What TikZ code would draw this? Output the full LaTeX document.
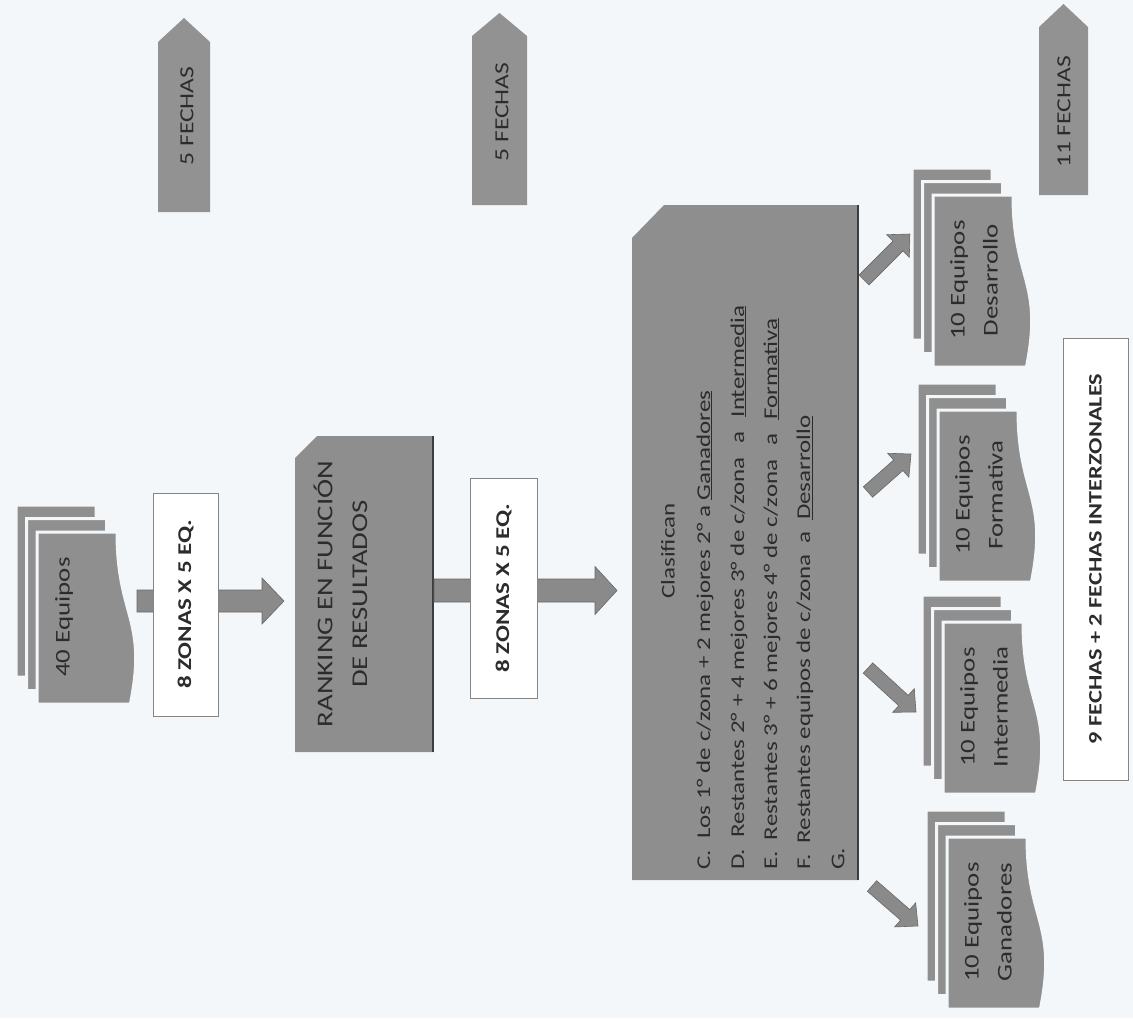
\documentclass[tikz,border=0pt]{standalone}
\usepackage{fontspec}
\setmainfont{Carlito}[FakeStretch=1.28]
\usetikzlibrary{calc}
\definecolor{bgc}{HTML}{F4F7FA}
\definecolor{boxg}{HTML}{8E8E8E}
\definecolor{docg}{HTML}{8F8F8F}
\definecolor{arrg}{HTML}{8A8A8A}
\definecolor{pentg}{HTML}{929292}
\definecolor{edgeg}{HTML}{3C3C3C}
\definecolor{txtc}{HTML}{2C2C2C}
\definecolor{lineg}{HTML}{858585}

\newcommand\blkarrow[5]{%
  \coordinate (hbtmp) at ($(#2)!#5!(#1)$);
  \filldraw[arrowsty] ($(#1)!#3!90:(#2)$) -- ($(hbtmp)!#3!-90:(#1)$) -- ($(hbtmp)!#4!-90:(#1)$) -- (#2)
     -- ($(hbtmp)!#4!90:(#1)$) -- ($(hbtmp)!#3!90:(#1)$) -- ($(#1)!#3!-90:(#2)$) -- cycle;
}
\newcommand\mdoc[5]{%
  \foreach \k in {2,1,0}{%
    \begin{scope}[shift={(#2-10.5*\k,#3-13.5*\k)}]
      \filldraw[docsty] (0,0) -- (80,0) .. controls (80,86) and (110.7,86) .. (93.4,172) -- (0,172) -- cycle;
    \end{scope}}
  \node[doctext] (#1) at (#2+#5,#3+85) {#4};
}
\newcommand\ga{\hspace{14pt}a\hspace{14pt}}

\begin{document}
\begin{tikzpicture}[x=1pt,y=-1pt,
  docsty/.style={fill=docg, draw=bgc, line width=3pt},
  arrowsty/.style={fill=arrg, draw=arrg!75!black, line width=0.6pt},
  boxsty/.style={fill=boxg},
  edgesty/.style={draw=edgeg, line width=2.5pt},
  pentsty/.style={fill=pentg},
  doctext/.style={rotate=90, align=center, text=txtc, inner sep=0pt, font=\fontsize{21}{33}\selectfont},
  pentext/.style={rotate=90, text=txtc, inner sep=0pt, font=\fontsize{20}{24}\selectfont},
  ranktext/.style={rotate=90, text=txtc, inner sep=0pt, font=\fontsize{22.5}{26}\selectfont},
  bigtext/.style={rotate=90, text=txtc, inner sep=0pt, font=\fontsize{19.5}{23}\selectfont},
  lbl/.style={rotate=90, draw=lineg, fill=white, line width=0.9pt, text=txtc, inner sep=0pt,
              font=\bfseries\fontsize{19.5}{23}\selectfont}]
\fill[bgc] (0,0) rectangle (1133,1018);
\useasboundingbox (0,0) rectangle (1133,1018);

% FECHAS pentagons
\fill[pentsty] (158,42) -- (184,18) -- (210,42) -- (210,212) -- (158,212) -- cycle;
\node[pentext] (f1) at (187,116) {5 FECHAS};
\fill[pentsty] (472,36) -- (499.5,13) -- (527,36) -- (527,205) -- (472,205) -- cycle;
\node[pentext] (f2) at (502,112) {5 FECHAS};
\fill[pentsty] (1039,27) -- (1063.5,4) -- (1088,27) -- (1088,195) -- (1039,195) -- cycle;
\node[pentext] (f3) at (1064,112) {11 FECHAS};

% 40 equipos
\mdoc{d40}{37}{532}{40 Equipos}{27}

% arrow 1 and label
\coordinate (a1s) at (137,601);
\coordinate (a1e) at (284,601);
\blkarrow{a1s}{a1e}{11pt}{23pt}{22pt}
\node[lbl, minimum width=223pt, minimum height=65pt] (z1) at (185.5,604.5) {8 ZONAS X 5 EQ.};

% ranking box
\fill[boxsty] (317,436) -- (433,436) -- (433,752) -- (295,752) -- (295,458) -- cycle;
\draw[edgesty] (433,436) -- (433,752);
\node[ranktext] (rank) at (323,594) {RANKING EN FUNCIÓN};
\node[ranktext] (rank2) at (360,594) {DE RESULTADOS};

% arrow 2 and label
\coordinate (a2s) at (434,590.5);
\coordinate (a2e) at (617,590.5);
\blkarrow{a2s}{a2e}{11.5pt}{24pt}{22pt}
\node[lbl, minimum width=220pt, minimum height=67pt] (z2) at (503.5,588) {8 ZONAS X 5 EQ.};

% big box
\fill[boxsty] (664,205) -- (858,205) -- (858,880) -- (632,880) -- (632,238) -- cycle;
\draw[edgesty] (858,205) -- (858,880);
\node[bigtext] (cl) at (668,551) {Clasifican};
\node[bigtext, anchor=west] (lc) at (705,870) {C.\ \ Los 1° de c/zona + 2 mejores 2° a \underline{Ganadores}};
\node[bigtext, anchor=west] (ld) at (739,870) {D.\ \ Restantes 2° + 4 mejores 3° de c/zona\ga\underline{Intermedia}};
\node[bigtext, anchor=west] (le) at (772,870) {E.\ \ Restantes 3° + 6 mejores 4° de c/zona\ga\underline{Formativa}};
\node[bigtext, anchor=west] (lf) at (805,870) {F.\ \ Restantes equipos de c/zona \ a \ \underline{Desarrollo}};
\node[bigtext, anchor=west] (lg) at (838,870) {G.};

% diagonal arrows
\coordinate (tD) at (864,280); \coordinate (hD) at (910,234);
\coordinate (tF) at (868,492); \coordinate (hF) at (911,454);
\coordinate (tI) at (868,668); \coordinate (hI) at (916,712);
\coordinate (tG) at (872,886); \coordinate (hG) at (918,926);
\blkarrow{tD}{hD}{7pt}{16pt}{17pt}
\blkarrow{tF}{hF}{7pt}{16pt}{17pt}
\blkarrow{tI}{hI}{7pt}{16pt}{17pt}
\blkarrow{tG}{hG}{7pt}{16pt}{17pt}

% result groups
\mdoc{dDes}{933}{195}{10 Equipos\\Desarrollo}{41}
\mdoc{dFor}{938}{410}{10 Equipos\\Formativa}{41}
\mdoc{dInt}{943}{622}{10 Equipos\\Intermedia}{41}
\mdoc{dGan}{947}{837}{10 Equipos\\Ganadores}{41}

% bottom label
\node[lbl, minimum width=442pt, minimum height=65pt, font=\bfseries\fontsize{19}{23}\selectfont] (z3) at (1095.5,559) {9 FECHAS + 2 FECHAS INTERZONALES};
\end{tikzpicture}
\end{document}
